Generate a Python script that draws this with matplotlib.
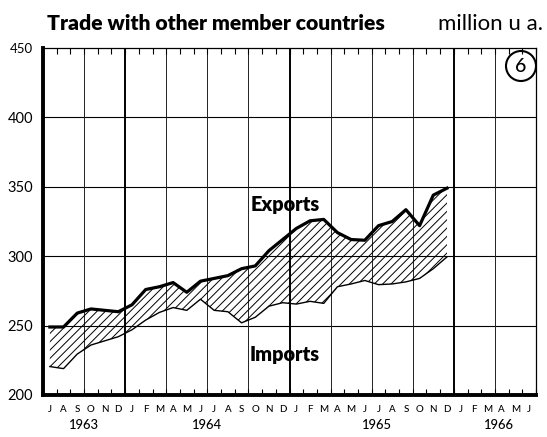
import matplotlib
matplotlib.use('Agg')
import matplotlib.pyplot as plt
from matplotlib.patches import Ellipse
import numpy as np

# ---- data ----
months = ['J', 'A', 'S', 'O', 'N', 'D',
          'J', 'F', 'M', 'A', 'M', 'J', 'J', 'A', 'S', 'O', 'N', 'D',
          'J', 'F', 'M', 'A', 'M', 'J', 'J', 'A', 'S', 'O', 'N', 'D',
          'J', 'F', 'M', 'A', 'M', 'J']
years = ['1963', '1964', '1965', '1966']
year_pos = [3.0, 12.0, 24.4, 33.3]
exports = [249, 249, 259, 262, 261, 260, 265, 276, 278, 281, 274, 282,
           284, 286, 291, 293, 304, 312, 320, 325.5, 326.5, 317, 312, 311.5,
           322, 325, 333.5, 322, 344, 349]
imports = [220.5, 219, 229.5, 236, 239, 242, 247, 254, 259.5, 263, 261, 269,
           261, 260, 252, 256, 264, 266.5, 265.5, 267.5, 266, 278, 280, 282.5,
           279.5, 280, 281.5, 284, 291, 299.5]
y_ticks = [200, 250, 300, 350, 400, 450]
h_grid = [250, 300, 350, 400]
v_grid = [3, 9, 12, 15, 21, 24, 27, 33]
v_grid_year = [6, 18, 30]

plt.rcParams['font.family'] = ['Lato', 'DejaVu Sans']
plt.rcParams['hatch.linewidth'] = 0.7

W, H = 547, 437
fig = plt.figure(figsize=(W / 100, H / 100), dpi=100)
L, R, T, B = 43, 536, 48, 395
ax = fig.add_axes([L / W, 1 - B / H, (R - L) / W, (B - T) / H])

x = np.arange(len(exports)) + 0.5
ax.fill_between(x, imports, exports, facecolor='none', edgecolor='black',
                hatch='////', linewidth=0, zorder=2)
ax.plot(x, exports, color='black', lw=2.3, solid_joinstyle='round', zorder=3)
ax.plot(x, imports, color='black', lw=1.0, zorder=3)

for g in h_grid:
    ax.axhline(g, color='black', lw=0.8, zorder=1)
for g in v_grid:
    ax.axvline(g, color='#222222', lw=0.7, zorder=1)
for g in v_grid_year:
    ax.axvline(g, color='black', lw=1.4, zorder=1)

ax.set_xlim(0, 36)
ax.set_ylim(200, 450)

ax.set_xticks(np.arange(37))
ax.set_xticklabels([])
ax.set_xticks(np.arange(36) + 0.5, minor=True)
ax.set_xticklabels(months, minor=True)
ax.tick_params(axis='x', which='major', direction='in', length=4, width=0.8,
               top=True, bottom=True)
ax.tick_params(axis='x', which='minor', length=0, labelsize=7, pad=7)
for t in ax.get_xticklabels(minor=True):
    t.set_fontweight('medium')

ax.set_yticks(y_ticks)
ax.set_yticklabels([str(v) for v in y_ticks])
ax.tick_params(axis='y', length=0, pad=7, labelsize=10.5)
ax.get_yticklabels()[-1].set_fontsize(9.5)

for s in ['left', 'bottom']:
    ax.spines[s].set_linewidth(2.8)
for s in ['top', 'right']:
    ax.spines[s].set_linewidth(0.9)

renderer = fig.canvas.get_renderer()


def fit(t, width_px):
    w = t.get_window_extent(renderer).width
    t.set_fontsize(t.get_fontsize() * width_px / w)


def fx(px):
    return px / W


def fy(py):
    return 1 - py / H


title = fig.text(fx(47), fy(30), 'Trade with other member countries',
                 fontweight='heavy', fontsize=13, ha='left', va='baseline')
fit(title, 339)
unit = fig.text(fx(543), fy(30), 'million u a.', fontsize=12,
                ha='right', va='baseline')
fit(unit, 105)

ex = fig.text(fx(285), fy(211), 'Exports', fontweight='heavy', fontsize=12,
              ha='center', va='baseline')
fit(ex, 69)
im = fig.text(fx(285), fy(361), 'Imports', fontweight='heavy', fontsize=12,
              ha='center', va='baseline')
fit(im, 70)

ytr = ax.get_xaxis_transform()
for yl, xp in zip(years, year_pos):
    t = ax.text(xp, (B - 425) / (B - T), yl, transform=ytr, ha='center',
                va='center', fontsize=11, fontweight='medium')
    fit(t, 30)

circ = Ellipse((fx(521), fy(66)), 30 / W, 30 / H, transform=fig.transFigure,
               fill=False, edgecolor='black', lw=1.5)
fig.add_artist(circ)
fig.text(fx(521), fy(66), '6', ha='center', va='center', fontsize=14,
         fontweight='medium')

fig.savefig('out.png', dpi=100)
